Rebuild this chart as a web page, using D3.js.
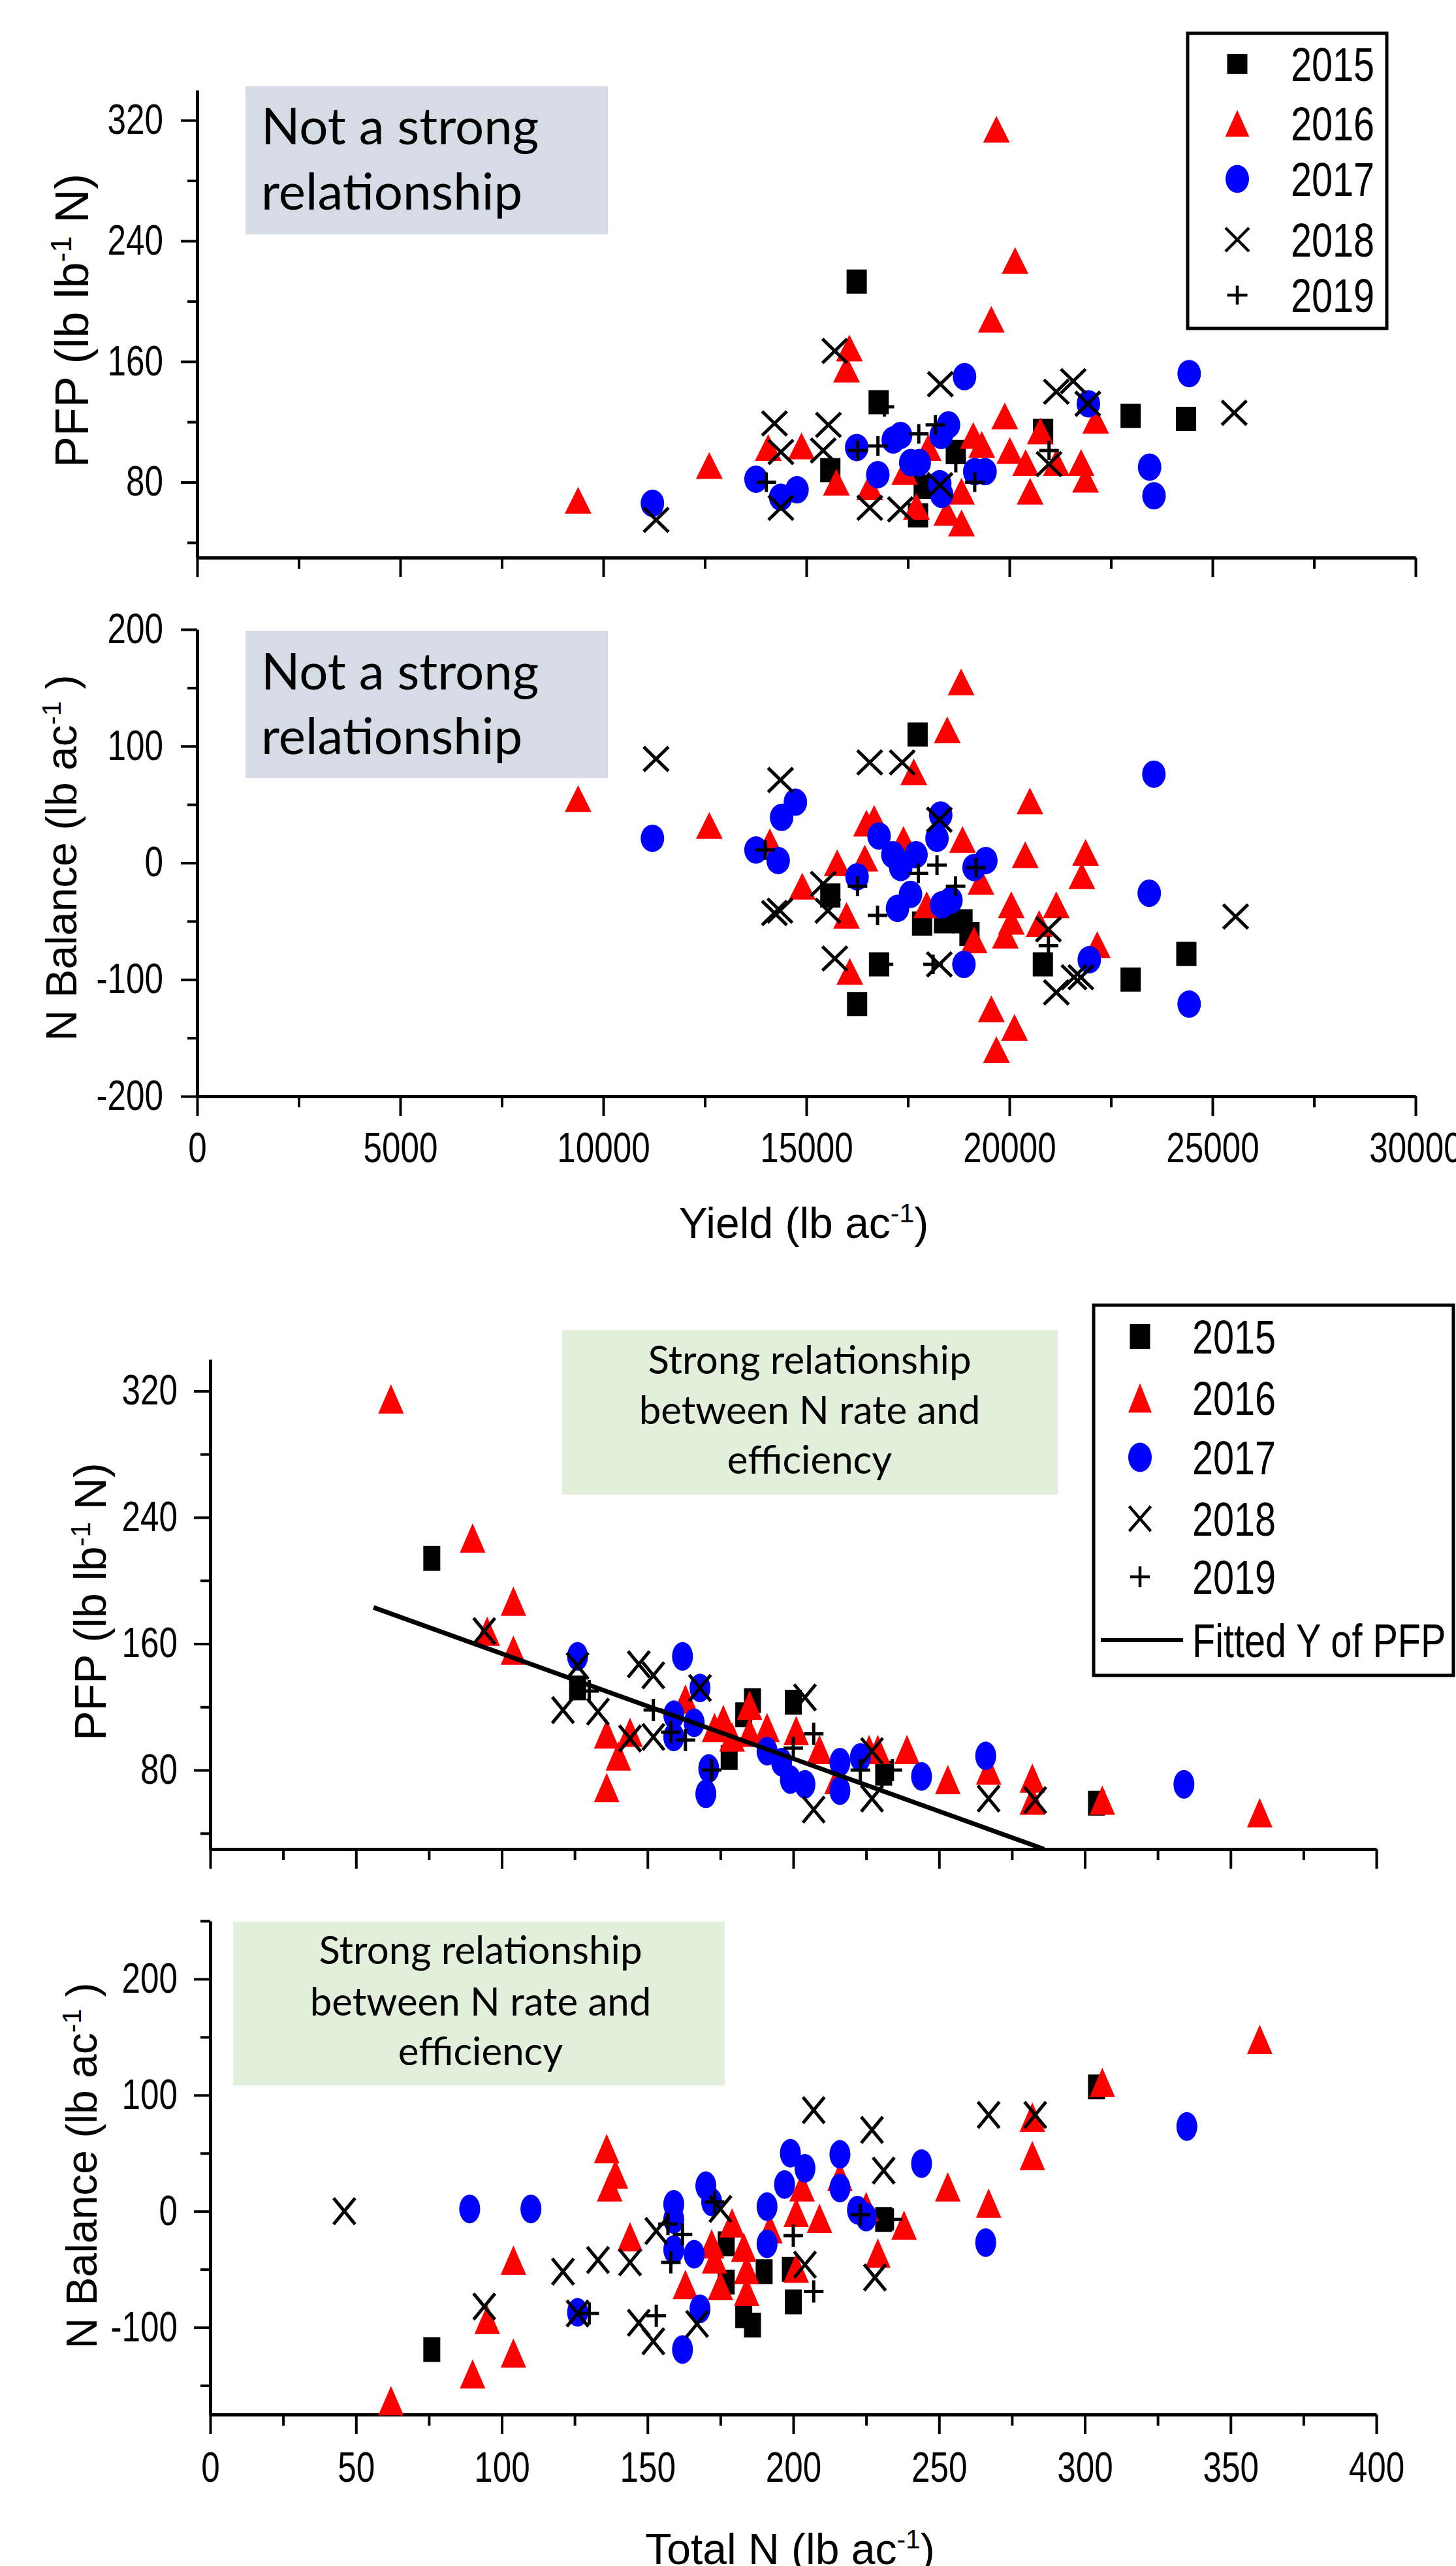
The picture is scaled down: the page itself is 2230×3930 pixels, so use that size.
<!DOCTYPE html>
<html>
<head>
<meta charset="utf-8">
<script src="https://cdnjs.cloudflare.com/ajax/libs/d3/7.8.5/d3.min.js"></script>
<style>
  body { margin: 0; background: #fff; }
  svg text { font-family: "Liberation Sans", Arial, sans-serif; fill: #000; }
</style>
</head>
<body>
<div id="chart"></div>
<script>
// ---------------- data ----------------
const years = ['2015', '2016', '2017', '2018', '2019'];

// Yield (lb ac-1) vs PFP (lb lb-1 N)
const pfpYield2015 = [[16240,213],[16780,133],[15590,88],[17750,58],[17890,77],[18680,100],[20830,114],[22985,124],[24350,122]];
const pfpYield2016 = [[9380,68],[12610,91],[14060,103],[14880,104],[15740,80],[15990,155],[16060,169],[16560,77],[17420,87],[17710,64],
  [18000,103],[18460,60],[18820,74],[18820,53],[19110,111],[19320,105],[19555,188],[19680,314],[19885,124],[20010,101],
  [20140,227],[20400,93],[20510,74],[20760,114],[21155,93],[21765,93],[21875,82],[22125,121]];
const pfpYield2017 = [[11210,66],[13760,82],[14370,70],[14770,75],[16240,103],[16760,85],[17140,108],[17320,111],[17570,93],[17780,93],
  [18285,79],[18320,111],[18330,72],[18500,118],[18895,150],[19146,87],[19400,87],[21945,132],[23452,90],[23560,71],[24426,152]];
const pfpYield2018 = [[11300,55],[14215,119],[14373,100],[14373,63],[15414,101],[15543,118],[15700,167],[16562,63],[17316,62],[18299,145],
  [18290,78],[20976,92],[21155,140],[21572,147],[21930,132],[25535,126]];
const pfpYield2019 = [[14014,80],[16260,101],[16763,104],[16921,130],[17768,112],[18177,118],[18680,93],[19146,80],[20976,101]];

// Yield (lb ac-1) vs N balance (lb ac-1)
const balYield2015 = [[15590,-28],[16250,-121],[16790,-87],[17740,110],[17850,-52],[18390,-50],[18845,-50],[19017,-61],[20824,-87],[22985,-100],[24357,-78]];
const balYield2016 = [[9380,55],[12610,32],[14100,18],[14900,-20],[15760,0],[15990,-45],[16070,-93],[16440,4],[16480,34],[16670,38],
  [17390,20],[17645,78],[17965,-36],[18470,114],[18810,155],[18845,20],[19130,-66],[19300,-16],[19555,-125],[19680,-160],
  [19900,-62],[20046,-36],[20046,-50],[20126,-141],[20390,7],[20504,53],[20733,-52],[21155,-36],[21784,-11],[21876,9],[22162,-70]];
const balYield2017 = [[11210,21],[13760,11],[14306,2],[14390,39],[14730,52],[16250,-12],[16790,23],[17130,7],[17245,-39],[17324,-4],
  [17565,-27],[17700,7],[18217,21],[18308,41],[18331,-36],[18560,-32],[18880,-87],[19130,-4],[19420,2],[21967,-83],
  [23443,-26],[23557,76],[24426,-121]];
const balYield2018 = [[11300,89],[14214,-43],[14350,-41],[14363,71],[15415,-18],[15530,-41],[15700,-82],[16560,86],[17360,86],[18274,37],
  [18274,-87],[20961,-57],[21155,-111],[21590,-98],[21760,-98],[25570,-46]];
const balYield2019 = [[13986,11],[16260,-20],[16753,-45],[16900,-87],[17759,-9],[18120,-87],[18217,-2],[18674,-20],[19180,-4],[20961,-71]];

// Total N (lb ac-1) vs PFP
const pfpN2015 = [[76,214],[126,132],[178,88],[183,115],[186,124],[200,123],[231,78],[304,59]];
const pfpN2016 = [[62,315],[90,227],[95,168],[104,187],[104,156],[136,103],[136,69],[140,89],[144,104],[163,125],
  [173,107],[176,112],[179,101],[185,121],[185,104],[191,107],[201,105],[209,93],[215,74],[226,93],
  [229,93],[239,93],[253,74],[267,80],[282,75],[282,61],[306,61],[360,53]];
const pfpN2017 = [[126,152],[159,115],[159,101],[162,152],[166,110],[168,132],[170,65],[171,81],[191,92],[196,85],
  [199,74],[204,71],[216,85],[216,67],[223,88],[244,76],[266,89],[334,71]];
const pfpN2018 = [[94,168],[121,118],[126,146],[133,117],[144,100],[147,147],[152,101],[152,140],[168,132],[204,126],
  [207,55],[227,92],[227,62],[267,62],[283,61]];
const pfpN2019 = [[130,130],[152,118],[158,104],[163,99],[172,80],[200,94],[207,103],[223,80],[234,80]];
// fitted PFP line, end points
const pfpFit = [[56,183],[286,30]];

// Total N (lb ac-1) vs N balance
const balN2015 = [[76,-119],[177,-28],[177,-61],[183,-90],[186,-98],[190,-52],[199,-50],[200,-78],[231,-7],[304,107]];
const balN2016 = [[62,-163],[90,-140],[95,-93],[104,-42],[104,-122],[136,54],[137,21],[139,32],[144,-22],[163,-63],
  [172,-28],[173,-41],[175,-64],[179,-10],[183,-31],[184,-50],[184,-69],[192,-15],[201,-1],[201,-49],
  [203,21],[209,-6],[216,30],[225,4],[229,-36],[238,-12],[253,21],[267,7],[282,48],[282,81],[306,111],[360,148]];
const balN2017 = [[89,2],[110,2],[126,-87],[159,6],[159,-7],[159,-33],[162,-119],[166,-37],[168,-84],[170,22],
  [172,8],[191,4],[191,-28],[197,23],[199,50],[204,37],[216,49],[216,20],[222,1],[225,-5],[244,41],[266,-27],[335,73]];
const balN2018 = [[46,0],[94,-82],[121,-52],[126,-88],[133,-42],[144,-44],[147,-96],[152,-112],[153,-17],[167,-97],
  [175,2],[204,-46],[207,87],[227,70],[228,-57],[231,35],[267,83],[283,83]];
const balN2019 = [[130,-88],[153,-90],[157,-11],[158,-44],[162,-20],[173,8],[200,-21],[207,-69],[223,-3],[234,-7]];

// tick values
const yieldTicks = [0, 5000, 10000, 15000, 20000, 25000, 30000];
const yieldMinor = [2500, 7500, 12500, 17500, 22500, 27500];
const nTicks = [0, 50, 100, 150, 200, 250, 300, 350, 400];
const nMinor = [25, 75, 125, 175, 225, 275, 325, 375];
const pfpTicks = [80, 160, 240, 320];
const pfpMinor = [40, 120, 200, 280];
const balYieldTicks = [-200, -100, 0, 100, 200];
const balYieldMinor = [-150, -50, 50, 150];
const balNTicks = [-100, 0, 100, 200];
const balNMinor = [-150, -50, 50, 150, 250];

// ---------------- drawing ----------------
const W = 2230, H = 3930;
const NARROW = 0.8;   // the original's tick and legend text is condensed

const colors = { '2015': '#000', '2016': '#ff0000', '2017': '#0000ff', '2018': '#000', '2019': '#000' };

// plain hyphen for negatives, like the original
const tickFmt = d => String(d);

const svg = d3.select('#chart').append('svg')
  .attr('width', W).attr('height', H)
  .style('background', '#fff');

// marker outline for a year, centred on 0,0
function markerPath(year, s) {
  let w, h;
  if (year === '2015') {
    [w, h] = s.sq;
    return `M${-w/2},${-h/2}h${w}v${h}h${-w}Z`;
  }
  if (year === '2016') {
    [w, h] = s.tri;
    return `M0,${-h/2}L${w/2},${h/2}L${-w/2},${h/2}Z`;
  }
  if (year === '2017') {
    [w, h] = s.cir;
    return `M${-w/2},0A${w/2},${h/2} 0 1,0 ${w/2},0A${w/2},${h/2} 0 1,0 ${-w/2},0Z`;
  }
  if (year === '2018') {
    [w, h] = s.x;
    return `M${-w/2},${-h/2}L${w/2},${h/2}M${w/2},${-h/2}L${-w/2},${h/2}`;
  }
  [w, h] = s.plus;
  return `M${-w/2},0H${w/2}M0,${-h/2}V${h/2}`;
}

function styleMarker(sel, year, sw) {
  if (year === '2018' || year === '2019') {
    sel.attr('fill', 'none').attr('stroke', '#000').attr('stroke-width', sw);
  } else {
    sel.attr('fill', colors[year]).attr('stroke', 'none');
  }
}

function drawPanel(p) {
  const x = d3.scaleLinear().domain(p.xDomain).range([p.left, p.right]);
  const y = d3.scaleLinear().domain(p.yDomain).range([p.bottom, p.top]);
  const g = svg.append('g');

  // note box
  const b = p.box;
  g.append('rect')
    .attr('x', b.x0).attr('y', b.y0)
    .attr('width', b.x1 - b.x0).attr('height', b.y1 - b.y0)
    .attr('fill', b.fill);
  b.lines.forEach(function (t, i) {
    g.append('text')
      .attr('x', b.tx).attr('y', b.baselines[i])
      .attr('text-anchor', b.anchor)
      .style('font-family', 'Lato, "Open Sans", sans-serif')
      .attr('font-size', b.size)
      .text(t);
  });

  // axes
  function styleAxis(a) {
    a.attr('font-size', null).attr('font-family', null);
    a.select('.domain').attr('stroke', '#000').attr('stroke-width', 5);
    a.selectAll('.tick line').attr('stroke', '#000').attr('stroke-width', 4);
  }

  const yAx = g.append('g').attr('transform', `translate(${p.left},0)`)
    .call(d3.axisLeft(y).tickValues(p.yMajor).tickSize(25).tickSizeOuter(0).tickPadding(p.yPad)
      .tickFormat(tickFmt));
  styleAxis(yAx);
  yAx.selectAll('.tick text')
    .attr('font-size', 64)
    .attr('x', -(25 + p.yPad) / NARROW)
    .attr('transform', `scale(${NARROW},1)`);

  const yMin = g.append('g').attr('transform', `translate(${p.left},0)`)
    .call(d3.axisLeft(y).tickValues(p.yMinor).tickSize(15).tickSizeOuter(0).tickFormat(''));
  styleAxis(yMin);
  yMin.select('.domain').remove();

  const xAx = g.append('g').attr('transform', `translate(0,${p.bottom})`)
    .call(d3.axisBottom(x).tickValues(p.xMajor).tickSize(30).tickSizeOuter(0).tickPadding(p.xPad)
      .tickFormat(p.xLabels ? tickFmt : ''));
  styleAxis(xAx);
  xAx.selectAll('.tick text')
    .attr('font-size', 64)
    .attr('transform', `scale(${NARROW},1)`);

  const xMin = g.append('g').attr('transform', `translate(0,${p.bottom})`)
    .call(d3.axisBottom(x).tickValues(p.xMinor).tickSize(17).tickSizeOuter(0).tickFormat(''));
  styleAxis(xMin);
  xMin.select('.domain').remove();

  // y title, rotated, with superscript
  const yt = g.append('text')
    .attr('transform', `translate(${p.yTitle.x},${p.yTitle.y}) rotate(-90)`)
    .attr('text-anchor', 'middle')
    .attr('font-size', p.yTitle.size);
  yt.append('tspan').text(p.yTitle.parts[0]);
  yt.append('tspan').attr('dy', -p.yTitle.size * 0.36).attr('font-size', p.yTitle.size * 0.62).text('-1');
  yt.append('tspan').attr('dy', p.yTitle.size * 0.36).text(p.yTitle.parts[1]);

  if (p.xTitle) {
    const xt = g.append('text')
      .attr('x', p.xTitle.x).attr('y', p.xTitle.y)
      .attr('text-anchor', 'middle')
      .attr('font-size', p.xTitle.size);
    xt.append('tspan').text(p.xTitle.parts[0]);
    xt.append('tspan').attr('dy', -p.xTitle.size * 0.36).attr('font-size', p.xTitle.size * 0.62).text('-1');
    xt.append('tspan').attr('dy', p.xTitle.size * 0.36).text(p.xTitle.parts[1]);
  }

  // points, one layer per year
  years.forEach(function (yr, i) {
    g.append('g').selectAll('path')
      .data(p.series[i])
      .join('path')
      .attr('d', markerPath(yr, p.sizes))
      .attr('transform', d => `translate(${x(d[0])},${y(d[1])})`)
      .call(styleMarker, yr, 5);
  });

  // fitted line
  if (p.fit) {
    g.append('path')
      .datum(p.fit)
      .attr('d', d3.line().x(d => x(d[0])).y(d => y(d[1])))
      .attr('fill', 'none')
      .attr('stroke', '#000')
      .attr('stroke-width', 7);
  }

  // legend
  if (p.legend) {
    const L = p.legend;
    const lg = svg.append('g');
    lg.append('rect')
      .attr('x', L.x0).attr('y', L.y0)
      .attr('width', L.x1 - L.x0).attr('height', L.y1 - L.y0)
      .attr('fill', '#fff').attr('stroke', '#000').attr('stroke-width', 5);
    years.forEach(function (yr, i) {
      lg.append('path')
        .attr('d', markerPath(yr, L.sizes))
        .attr('transform', `translate(${L.symX},${L.rows[i]})`)
        .call(styleMarker, yr, 4.5);
      lg.append('text')
        .attr('transform', `translate(${L.textX},${L.rows[i] + 26}) scale(${NARROW},1)`)
        .attr('font-size', 72)
        .text(yr);
    });
    if (L.fitRow) {
      lg.append('line')
        .attr('x1', L.lineX[0]).attr('x2', L.lineX[1])
        .attr('y1', L.fitRow).attr('y2', L.fitRow)
        .attr('stroke', '#000').attr('stroke-width', 6);
      lg.append('text')
        .attr('transform', `translate(${L.textX},${L.fitRow + 26}) scale(${NARROW},1)`)
        .attr('font-size', 72)
        .text('Fitted Y of PFP');
    }
  }
}

const sizesTop = { sq: [31, 37], tri: [41, 41], cir: [36, 42], x: [38, 37], plus: [30, 30] };
const sizesBottom = { sq: [26, 38], tri: [39, 45], cir: [32, 44], x: [33, 40], plus: [30, 34] };

const greyBox = '#d6dce5', greenBox = '#e2efda';

drawPanel({
  left: 302, right: 2168, top: 138, bottom: 854,
  xDomain: [0, 30000], yDomain: [30, 340],
  xMajor: yieldTicks, xMinor: yieldMinor, xLabels: false, xPad: 26,
  yMajor: pfpTicks, yMinor: pfpMinor, yPad: 27,
  series: [pfpYield2015, pfpYield2016, pfpYield2017, pfpYield2018, pfpYield2019],
  sizes: sizesTop,
  box: { x0: 376, x1: 931, y0: 132, y1: 359, fill: greyBox, tx: 400, anchor: 'start',
         size: 78, lines: ['Not a strong', 'relationship'], baselines: [221, 321] },
  yTitle: { x: 135, y: 491, size: 72, parts: ['PFP (lb lb', ' N)'] },
  legend: { x0: 1819, x1: 2124, y0: 51, y1: 503, symX: 1895, textX: 1977,
            rows: [98, 189, 274, 367, 452],
            sizes: { sq: [31, 30], tri: [37, 41], cir: [36, 43], x: [36, 36], plus: [31, 29] } }
});

drawPanel({
  left: 302, right: 2168, top: 964, bottom: 1679,
  xDomain: [0, 30000], yDomain: [-200, 200],
  xMajor: yieldTicks, xMinor: yieldMinor, xLabels: true, xPad: 26,
  yMajor: balYieldTicks, yMinor: balYieldMinor, yPad: 27,
  series: [balYield2015, balYield2016, balYield2017, balYield2018, balYield2019],
  sizes: sizesTop,
  box: { x0: 376, x1: 931, y0: 966, y1: 1192, fill: greyBox, tx: 400, anchor: 'start',
         size: 78, lines: ['Not a strong', 'relationship'], baselines: [1056, 1155] },
  yTitle: { x: 117, y: 1314, size: 66, parts: ['N Balance (lb ac', ' )'] },
  xTitle: { x: 1231, y: 1896, size: 66, parts: ['Yield (lb ac', ')'] }
});

drawPanel({
  left: 322, right: 2108, top: 2082, bottom: 2832,
  xDomain: [0, 400], yDomain: [30, 340],
  xMajor: nTicks, xMinor: nMinor, xLabels: false, xPad: 28,
  yMajor: pfpTicks, yMinor: pfpMinor, yPad: 25,
  series: [pfpN2015, pfpN2016, pfpN2017, pfpN2018, pfpN2019],
  sizes: sizesBottom,
  fit: pfpFit,
  box: { x0: 861, x1: 1620, y0: 2037, y1: 2289, fill: greenBox, tx: 1240, anchor: 'middle',
         size: 60, lines: ['Strong relationship', 'between N rate and', 'efficiency'], baselines: [2104, 2181, 2257] },
  yTitle: { x: 162, y: 2453, size: 68, parts: ['PFP (lb lb', ' N)'] },
  legend: { x0: 1675, x1: 2226, y0: 1999, y1: 2566, symX: 1746, textX: 1826,
            rows: [2047, 2141, 2232, 2326, 2415], fitRow: 2512, lineX: [1686, 1812],
            sizes: { sq: [31, 38], tri: [36, 45], cir: [36, 45], x: [33, 38], plus: [30, 32] } }
});

drawPanel({
  left: 322, right: 2108, top: 2942, bottom: 3698,
  xDomain: [0, 400], yDomain: [-175, 250],
  xMajor: nTicks, xMinor: nMinor, xLabels: true, xPad: 28,
  yMajor: balNTicks, yMinor: balNMinor, yPad: 25,
  series: [balN2015, balN2016, balN2017, balN2018, balN2019],
  sizes: sizesBottom,
  box: { x0: 357, x1: 1110, y0: 2943, y1: 3194, fill: greenBox, tx: 736, anchor: 'middle',
         size: 60, lines: ['Strong relationship', 'between N rate and', 'efficiency'], baselines: [3008, 3087, 3163] },
  yTitle: { x: 148, y: 3317, size: 66, parts: ['N Balance (lb ac', ' )'] },
  xTitle: { x: 1210, y: 3927, size: 66, parts: ['Total N (lb ac', ')'] }
});
</script>
</body>
</html>
